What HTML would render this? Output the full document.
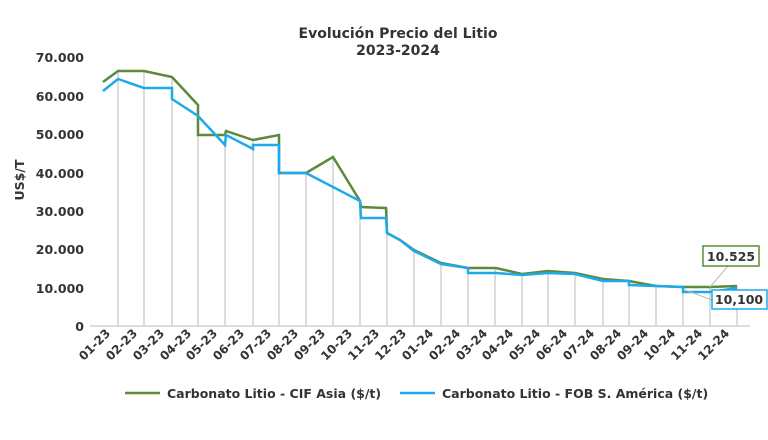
<!DOCTYPE html>
<html><head><meta charset="utf-8"><style>
body{margin:0;background:#fff;}
svg{display:block;font-family:"DejaVu Sans","Liberation Sans",sans-serif;}
</style></head><body>
<svg width="768" height="440" viewBox="0 0 768 440">
<text x="398" y="38" text-anchor="middle" font-size="14" font-weight="bold" fill="#333">Evolución Precio del Litio</text>
<text x="398" y="55" text-anchor="middle" font-size="14" font-weight="bold" fill="#333">2023-2024</text>
<g font-size="12.5" font-weight="bold" fill="#333" text-anchor="end">
<text x="84" y="62">70.000</text><text x="84" y="101">60.000</text><text x="84" y="139">50.000</text><text x="84" y="178">40.000</text><text x="84" y="216">30.000</text><text x="84" y="254">20.000</text><text x="84" y="293">10.000</text><text x="84" y="331">0</text>
</g>
<text transform="translate(24,180) rotate(-90)" text-anchor="middle" font-size="12.5" font-weight="bold" fill="#333">US$/T</text>
<g stroke="#d0d0d0" stroke-width="1.5">
<line x1="118" y1="71" x2="118" y2="326"/><line x1="144" y1="71" x2="144" y2="326"/><line x1="172" y1="77" x2="172" y2="326"/><line x1="198" y1="105" x2="198" y2="326"/><line x1="225" y1="131" x2="225" y2="326"/><line x1="253" y1="140" x2="253" y2="326"/><line x1="279" y1="135" x2="279" y2="326"/><line x1="306" y1="173" x2="306" y2="326"/><line x1="333" y1="157" x2="333" y2="326"/><line x1="360" y1="201" x2="360" y2="326"/><line x1="387" y1="208" x2="387" y2="326"/><line x1="414" y1="250" x2="414" y2="326"/><line x1="441" y1="263" x2="441" y2="326"/><line x1="468" y1="268" x2="468" y2="326"/><line x1="495" y1="268" x2="495" y2="326"/><line x1="522" y1="274" x2="522" y2="326"/><line x1="548" y1="272" x2="548" y2="326"/><line x1="575" y1="273" x2="575" y2="326"/><line x1="603" y1="279" x2="603" y2="326"/><line x1="629" y1="281" x2="629" y2="326"/><line x1="656" y1="286" x2="656" y2="326"/><line x1="683" y1="287" x2="683" y2="326"/><line x1="710" y1="287" x2="710" y2="326"/><line x1="737" y1="286" x2="737" y2="326"/>
</g>
<line x1="90" y1="326" x2="750" y2="326" stroke="#d0d0d0" stroke-width="1.5"/>
<polyline fill="none" stroke="#5b8a3a" stroke-width="2.5" points="103,82 118,71 144,71 172,77 198,105 198,135 225,135 226,131 253,140 279,135 279,173 306,173 333,157 360,201 361,207 386,208 387,233 400,240 414,250 441,263 468,268 496,268 522,274 548,271 575,273 603,279 629,281 656,286 683,287 710,287 737,286"/>
<polyline fill="none" stroke="#1eaaea" stroke-width="2.5" points="103,91 118,79 144,88 172,88 172,99 198,116 225,145 226,135 253,149 253,145 279,145 279,173 306,173 360,201 361,218 386,218 387,233 400,240 414,251 441,264 468,268 468,273 496,273 522,275 548,273 575,274 603,281 629,281 629,285 656,286 683,287 683,292 710,292 737,288"/>
<line x1="710" y1="287" x2="728" y2="266" stroke="#bbb"/>
<line x1="685" y1="290" x2="712" y2="300" stroke="#bbb"/>
<rect x="703" y="246" width="56" height="20" fill="#fff" stroke="#5b8a3a" stroke-width="1.5"/>
<text x="731" y="261" text-anchor="middle" font-size="12.5" font-weight="bold" fill="#333">10.525</text>
<rect x="712" y="290" width="55" height="19" fill="#fff" stroke="#1eaaea" stroke-width="1.5"/>
<text x="739" y="304" text-anchor="middle" font-size="12.5" font-weight="bold" fill="#333">10,100</text>
<g font-size="12" font-weight="bold" fill="#333" text-anchor="end">
<text transform="translate(111,334) rotate(-45)">01-23</text><text transform="translate(138,334) rotate(-45)">02-23</text><text transform="translate(165,334) rotate(-45)">03-23</text><text transform="translate(192,334) rotate(-45)">04-23</text><text transform="translate(218,334) rotate(-45)">05-23</text><text transform="translate(245,334) rotate(-45)">06-23</text><text transform="translate(272,334) rotate(-45)">07-23</text><text transform="translate(299,334) rotate(-45)">08-23</text><text transform="translate(326,334) rotate(-45)">09-23</text><text transform="translate(353,334) rotate(-45)">10-23</text><text transform="translate(380,334) rotate(-45)">11-23</text><text transform="translate(407,334) rotate(-45)">12-23</text><text transform="translate(434,334) rotate(-45)">01-24</text><text transform="translate(461,334) rotate(-45)">02-24</text><text transform="translate(488,334) rotate(-45)">03-24</text><text transform="translate(514,334) rotate(-45)">04-24</text><text transform="translate(541,334) rotate(-45)">05-24</text><text transform="translate(568,334) rotate(-45)">06-24</text><text transform="translate(595,334) rotate(-45)">07-24</text><text transform="translate(622,334) rotate(-45)">08-24</text><text transform="translate(649,334) rotate(-45)">09-24</text><text transform="translate(676,334) rotate(-45)">10-24</text><text transform="translate(703,334) rotate(-45)">11-24</text><text transform="translate(730,334) rotate(-45)">12-24</text>
</g>
<line x1="125" y1="393" x2="160" y2="393" stroke="#5b8a3a" stroke-width="2.5"/>
<text x="167" y="398" font-size="12.5" font-weight="bold" fill="#333">Carbonato Litio - CIF Asia ($/t)</text>
<line x1="400" y1="393" x2="435" y2="393" stroke="#1eaaea" stroke-width="2.5"/>
<text x="442" y="398" font-size="12.5" font-weight="bold" fill="#333">Carbonato Litio - FOB S. América ($/t)</text>
</svg>
</body></html>
